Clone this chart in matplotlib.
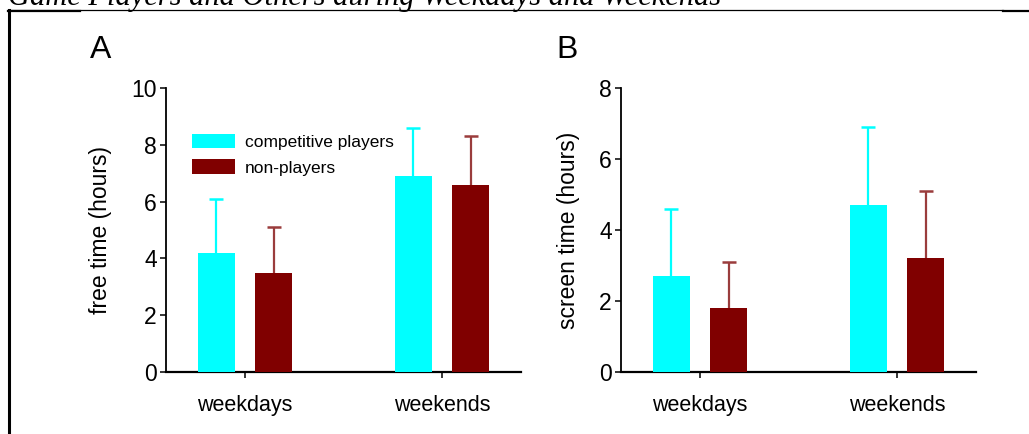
import matplotlib
matplotlib.use("Agg")
import matplotlib.pyplot as plt
from matplotlib.lines import Line2D
import numpy as np

plt.rcParams['font.family'] = ['Liberation Sans', 'DejaVu Sans']

groups = ["weekdays", "weekends"]
series = ["competitive players", "non-players"]

free_players = [4.2, 6.9]
free_players_err = [1.9, 1.7]
free_non = [3.5, 6.6]
free_non_err = [1.6, 1.7]

screen_players = [2.7, 4.7]
screen_players_err = [1.9, 2.2]
screen_non = [1.8, 3.2]
screen_non_err = [1.3, 1.9]

bar_colors = ["#00ffff", "#800000"]
err_colors = ["#00ffff", "#9a3c3c"]

W, H = 1029, 434
fig = plt.figure(figsize=(W / 100, H / 100), dpi=100)


def draw_panel(ax, vals, errs, ymax, ystep, ylabel, letter, label_x):
    x = np.arange(len(groups))
    width = 0.188
    offs = [-0.147, 0.147]
    for k in range(2):
        xs = x + offs[k]
        ax.bar(xs, vals[k], width, color=bar_colors[k], zorder=3,
               label=series[k])
        top = np.array(vals[k]) + np.array(errs[k])
        ax.vlines(xs, vals[k], top, color=err_colors[k], lw=1.6, zorder=2)
        ax.plot(xs, top, ls="none", marker="_", markersize=10,
                markeredgewidth=1.8, color=err_colors[k], zorder=2)
    ax.set_xlim(-0.401, 1.401)
    ax.set_ylim(0, ymax)
    ax.set_yticks(np.arange(0, ymax + 0.1, ystep))
    ax.set_xticks(x)
    ax.set_xticklabels(groups)
    for s in ["top", "right"]:
        ax.spines[s].set_visible(False)
    ax.spines["left"].set_linewidth(1.3)
    ax.spines["bottom"].set_linewidth(1.6)
    ax.tick_params(axis="y", labelsize=16.5, length=4.5, width=1.1, pad=2)
    ax.tick_params(axis="x", labelsize=15.5, length=4.5, width=1.1, pad=12)
    ax.set_ylabel(ylabel, fontsize=16.5)
    ax.yaxis.set_label_coords(label_x, 0.5)
    ax.text(letter[1], 1.08, letter[0], transform=ax.transAxes,
            fontsize=23, ha="left", va="bottom")


axA = fig.add_axes([166 / W, 62 / H, 355 / W, 284 / H])
draw_panel(axA, [free_players, free_non], [free_players_err, free_non_err],
           10, 2, "free time (hours)", ("A", -0.213), -0.152)
axA.legend(loc="upper left", bbox_to_anchor=(0.073, 0.839), frameon=False,
           fontsize=12.5, handlelength=2.5, handleheight=0.9,
           handletextpad=0.55, labelspacing=0.55, borderpad=0,
           borderaxespad=0)

axB = fig.add_axes([621 / W, 62 / H, 355 / W, 284 / H])
draw_panel(axB, [screen_players, screen_non],
           [screen_players_err, screen_non_err],
           8, 2, "screen time (hours)", ("B", -0.183), -0.115)

# caption cut off at top and frame lines
fig.text(8 / W, 1 - 5 / H, "Game Players and Others during Weekdays and Weekends",
         family="Liberation Serif", style="italic", fontsize=22,
         ha="left", va="baseline")
fig.add_artist(Line2D([8 / W, 1003 / W], [1 - 10 / H, 1 - 10 / H],
                      color="black", lw=0.9, transform=fig.transFigure))
fig.add_artist(Line2D([8 / W, 80 / W], [1 - 10.5 / H, 1 - 10.5 / H],
                      color="black", lw=1.6, transform=fig.transFigure))
fig.add_artist(Line2D([1003 / W, 1.0], [1 - 10.5 / H, 1 - 10.5 / H],
                      color="black", lw=1.6, transform=fig.transFigure))
fig.add_artist(Line2D([8.5 / W, 8.5 / W], [0, 1 - 10 / H],
                      color="black", lw=2.2, transform=fig.transFigure))

fig.savefig("out.png", dpi=100)
